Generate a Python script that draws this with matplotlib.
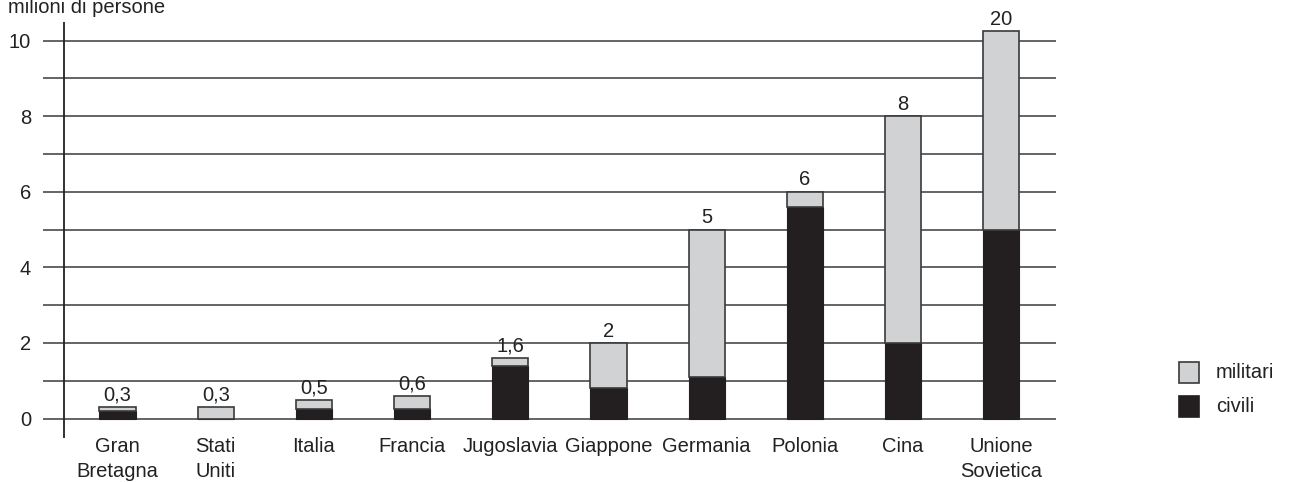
import matplotlib
matplotlib.use("Agg")
import matplotlib.pyplot as plt
from matplotlib.patches import Rectangle

plt.rcParams["font.family"] = ["Liberation Sans", "DejaVu Sans"]

# Vittime della seconda guerra mondiale (milioni di persone)
paesi = ["Gran\nBretagna", "Stati\nUniti", "Italia", "Francia", "Jugoslavia",
         "Giappone", "Germania", "Polonia", "Cina", "Unione\nSovietica"]
civili = [0.2, 0.0, 0.25, 0.25, 1.4, 0.8, 1.1, 5.6, 2.0, 5.0]
militari = [0.1, 0.3, 0.25, 0.35, 0.2, 1.2, 3.9, 0.4, 6.0, 5.25]
etichette = ["0,3", "0,3", "0,5", "0,6", "1,6", "2", "5", "6", "8", "20"]
yticks = [0, 2, 4, 6, 8, 10]

W, H = 1290, 482
C_MIL = "#d1d2d4"
C_CIV = "#231f20"
C_LINE = "#3a3a3a"
C_TXT = "#222222"
FS = 14.5

fig = plt.figure(figsize=(W / 100, H / 100), dpi=100)
ax = fig.add_axes([43 / W, (H - 441.2) / H, 1013 / W, (441.2 - 21.6) / H])

x = list(range(len(paesi)))
xmin, xmax = -0.759, 9.557
ax.set_xlim(xmin, xmax)
ax.set_ylim(-0.6, 10.5)

# horizontal rules every million, drawn behind the bars
ax.hlines(range(0, 11), xmin, xmax, colors=C_LINE, linewidth=1.1, zorder=1)
# vertical axis line
ax.vlines(-0.545, -0.52, 10.5, colors=C_TXT, linewidth=1.3, zorder=1)

bw = 0.37
ax.bar(x, civili, width=bw, color=C_CIV, edgecolor=C_CIV, linewidth=0.8, zorder=3)
ax.bar(x, militari, width=bw, bottom=civili, color=C_MIL, edgecolor=C_LINE,
       linewidth=1.2, zorder=3)

for xi, c, m, lab in zip(x, civili, militari, etichette):
    ax.annotate(lab, (xi, c + m), xytext=(0, 4.5), textcoords="offset points",
                ha="center", va="baseline", fontsize=FS, color=C_TXT)

for xi, nome in zip(x, paesi):
    ax.text(xi, -0.5, nome, ha="center", va="top", fontsize=FS,
            color=C_TXT, linespacing=1.4, clip_on=False)

ax.set_xticks([])
ax.set_yticks(yticks)
ax.set_yticklabels([str(t) for t in yticks], fontsize=FS, color=C_TXT)
ax.tick_params(axis="y", length=0, pad=8.5)
for s in ax.spines.values():
    s.set_visible(False)
ax.patch.set_alpha(0)

fig.text(8 / W, 1 - 13 / H, "milioni di persone", fontsize=FS, color=C_TXT,
         ha="left", va="baseline")

# legend
legenda = [("militari", C_MIL, C_LINE, 362), ("civili", C_CIV, C_CIV, 396)]
for nome, fc, ec, ytop in legenda:
    fig.add_artist(Rectangle((1179 / W, (H - ytop - 21) / H), 20 / W, 21 / H,
                             transform=fig.transFigure, facecolor=fc,
                             edgecolor=ec, linewidth=1.2))
    fig.text(1216 / W, (H - ytop - 11) / H, nome, fontsize=FS, color=C_TXT,
             ha="left", va="center")

fig.savefig("out.png", dpi=100)
